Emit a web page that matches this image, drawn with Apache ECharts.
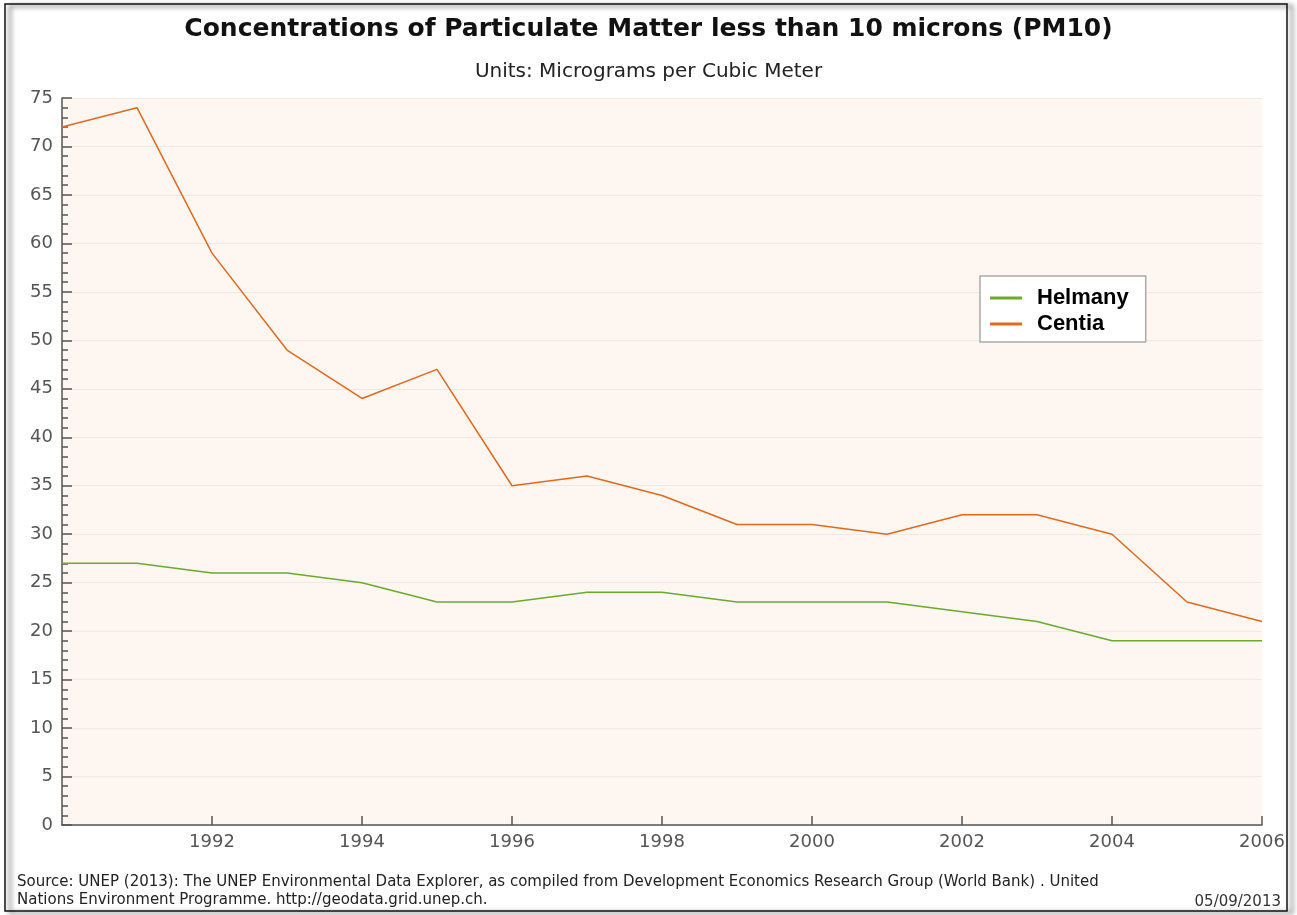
<!DOCTYPE html>
<html>
<head>
<meta charset="utf-8">
<script src="https://cdn.jsdelivr.net/npm/echarts@6/dist/echarts.min.js"></script>
<style>
  html, body { margin: 0; padding: 0; background: #fff; }
  #chart { width: 1297px; height: 915px; }
</style>
</head>
<body>
<div id="chart"></div>
<script>
// years on the x axis
var years = [1990, 1991, 1992, 1993, 1994, 1995, 1996, 1997, 1998, 1999, 2000, 2001, 2002, 2003, 2004, 2005, 2006]
// PM10 values
var helmany = [27, 27, 26, 26, 25, 23, 23, 24, 24, 23, 23, 23, 22, 21, 19, 19, 19]
var centia = [72, 74, 59, 49, 44, 47, 35, 36, 34, 31, 31, 30, 32, 32, 30, 23, 21]

var seriesNames = ['Helmany', 'Centia']
var titleText = 'Concentrations of Particulate Matter less than 10 microns (PM10)'
var subText = 'Units: Micrograms per Cubic Meter'
var sourceLine1 = 'Source: UNEP (2013): The UNEP Environmental Data Explorer, as compiled from Development Economics Research Group (World Bank) . United'
var sourceLine2 = 'Nations Environment Programme. http://geodata.grid.unep.ch.'
var dateText = '05/09/2013'

function pairs(vals) {
  return years.map(function (y, i) { return [y, vals[i]] })
}

var chart = echarts.init(document.getElementById('chart'))

var option = {
  backgroundColor: '#fff',
  animation: false,
  title: [{
    text: titleText,
    left: 'center',
    top: 12,
    textStyle: { fontFamily: 'DejaVu Sans', fontSize: 25, fontWeight: 'bold', color: '#111' }
  }, {
    text: subText,
    left: 'center',
    top: 57,
    textStyle: { fontFamily: 'DejaVu Sans', fontSize: 20, fontWeight: 'normal', color: '#222' }
  }],
  grid: {
    left: 62,
    right: 35,
    top: 98,
    bottom: 90,
    show: true,
    backgroundColor: '#fdf6f1',
    borderWidth: 0
  },
  legend: {
    orient: 'vertical',
    left: 980,
    top: 276,
    padding: [11, 17, 7, 10],
    backgroundColor: '#fff',
    borderColor: '#aaa',
    borderWidth: 1.5,
    itemGap: 4,
    itemWidth: 32,
    itemHeight: 3,
    icon: 'rect',
    data: seriesNames,
    textStyle: { fontFamily: 'Liberation Sans', fontSize: 22, fontWeight: 'bold', color: '#000', padding: [0, 0, 0, 10] }
  },
  xAxis: {
    type: 'value',
    min: 1990,
    max: 2006,
    interval: 2,
    axisLine: { show: true, lineStyle: { color: '#555', width: 1.5 } },
    axisTick: { show: true, inside: true, length: 9, lineStyle: { color: '#555', width: 1.5 } },
    splitLine: { show: false },
    axisLabel: {
      color: '#555',
      fontFamily: 'DejaVu Sans',
      fontSize: 18,
      margin: 8,
      showMinLabel: false,
      formatter: function (v) { return String(v) }
    }
  },
  yAxis: {
    type: 'value',
    min: 0,
    max: 75,
    interval: 5,
    axisLine: { show: true, lineStyle: { color: '#555', width: 1.5 } },
    axisTick: { show: true, inside: true, length: 10, lineStyle: { color: '#555', width: 1.5 } },
    minorTick: { show: true, splitNumber: 5, length: 6, lineStyle: { color: '#555', width: 1.5 } },
    splitLine: { show: true, lineStyle: { color: '#f0e8e3', width: 1 } },
    axisLabel: {
      color: '#555',
      fontFamily: 'DejaVu Sans',
      fontSize: 18,
      margin: 9
    }
  },
  series: [{
    name: seriesNames[0],
    type: 'line',
    data: pairs(helmany),
    symbol: 'none',
    color: '#6aaa2c',
    lineStyle: { width: 1.5, color: '#6aaa2c' }
  }, {
    name: seriesNames[1],
    type: 'line',
    data: pairs(centia),
    symbol: 'none',
    color: '#e0691e',
    lineStyle: { width: 1.5, color: '#e0691e' }
  }],
  graphic: [{
    type: 'rect',
    shape: { x: 5, y: 4, width: 1282, height: 907 },
    style: { fill: 'none', stroke: '#111', lineWidth: 1.5, shadowBlur: 5, shadowOffsetX: 5, shadowOffsetY: 2, shadowColor: 'rgba(0,0,0,0.75)' },
    silent: true,
    z: 100
  }, {
    type: 'text',
    left: 17,
    top: 875,
    style: { text: sourceLine1, fontFamily: 'DejaVu Sans', fontSize: 15, fill: '#222' }
  }, {
    type: 'text',
    left: 17,
    top: 893,
    style: { text: sourceLine2, fontFamily: 'DejaVu Sans', fontSize: 15, fill: '#222' }
  }, {
    type: 'text',
    right: 16,
    top: 895,
    style: { text: dateText, fontFamily: 'DejaVu Sans', fontSize: 15, fill: '#333' }
  }]
}

chart.setOption(option)
</script>
</body>
</html>
